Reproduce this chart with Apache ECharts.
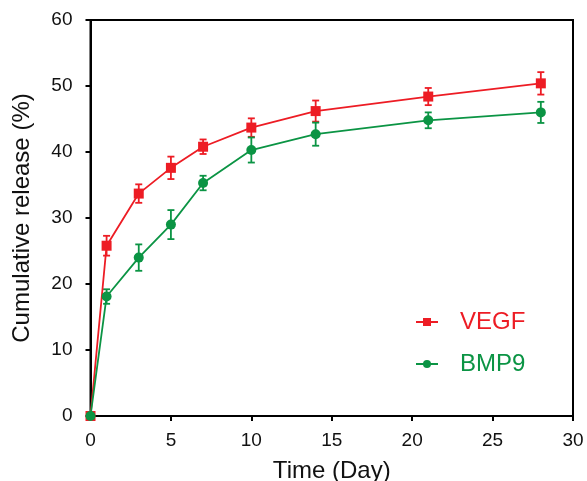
<!DOCTYPE html>
<html>
<head>
<meta charset="utf-8">
<script src="https://cdn.jsdelivr.net/npm/echarts@6/dist/echarts.min.js"></script>
<style>
html,body{margin:0;padding:0;background:#fff;}
#chart{width:587px;height:481px;}
</style>
</head>
<body>
<div id="chart"></div>
<script>
const days = [0, 1, 3, 5, 7, 10, 14, 21, 28];
const vegf = [0, 25.8, 33.7, 37.6, 40.8, 43.7, 46.2, 48.4, 50.4];
const vegfErr = [0, 1.5, 1.4, 1.7, 1.1, 1.4, 1.6, 1.3, 1.7];
const bmp9 = [0, 18.1, 24.0, 29.0, 35.3, 40.3, 42.7, 44.8, 46.0];
const bmp9Err = [0, 1.1, 2.0, 2.2, 1.1, 1.9, 1.75, 1.2, 1.6];
const xTicks = [0, 5, 10, 15, 20, 25, 30];
const yTicks = [0, 10, 20, 30, 40, 50, 60];

const RED = '#ed1c24';
const GREEN = '#0b9444';
const FONT = '"Liberation Sans", Arial, sans-serif';

function pairs(ys) { return days.map((d, i) => [d, ys[i]]); }
function errData(ys, es) { return days.map((d, i) => [d, ys[i] - es[i], ys[i] + es[i]]); }
function errSeries(name, ys, es, color) {
  return {
    type: 'custom',
    name: name + ' err',
    data: errData(ys, es),
    z: 3,
    clip: false,
    silent: true,
    renderItem: function (params, api) {
      const x = api.value(0);
      const lo = api.coord([x, api.value(1)]);
      const hi = api.coord([x, api.value(2)]);
      const w = 3.5;
      const style = { stroke: color, lineWidth: 1.8 };
      return {
        type: 'group',
        children: [
          { type: 'line', shape: { x1: lo[0], y1: lo[1], x2: hi[0], y2: hi[1] }, style: style },
          { type: 'line', shape: { x1: lo[0] - w, y1: lo[1], x2: lo[0] + w, y2: lo[1] }, style: style },
          { type: 'line', shape: { x1: hi[0] - w, y1: hi[1], x2: hi[0] + w, y2: hi[1] }, style: style }
        ]
      };
    }
  };
}

const chart = echarts.init(document.getElementById('chart'), null, { renderer: 'canvas' });
chart.setOption({
  animation: false,
  backgroundColor: '#fff',
  grid: {
    left: 90.5, right: 14, top: 20, bottom: 65,
    outerBoundsMode: 'none', containLabel: false,
    show: true, borderColor: '#000', borderWidth: 2, backgroundColor: 'transparent'
  },
  xAxis: {
    type: 'value', min: 0, max: 30, interval: 5,
    name: 'Time (Day)', nameLocation: 'middle', nameGap: 43,
    nameTextStyle: { fontFamily: FONT, fontSize: 24, color: '#111' },
    axisLine: { show: true, lineStyle: { color: '#000', width: 2 } },
    axisTick: { show: true, inside: false, length: 5, lineStyle: { color: '#000', width: 2 } },
    axisLabel: { fontFamily: FONT, fontSize: 19, color: '#111', margin: 15,
      formatter: v => xTicks.includes(v) ? String(v) : '' },
    splitLine: { show: false }
  },
  yAxis: {
    type: 'value', min: 0, max: 60, interval: 10,
    name: 'Cumulative release (%)', nameLocation: 'middle', nameGap: 56,
    nameTextStyle: { fontFamily: FONT, fontSize: 24, color: '#111' },
    axisLine: { show: true, lineStyle: { color: '#000', width: 2 } },
    axisTick: { show: true, inside: false, length: 5, lineStyle: { color: '#000', width: 2 } },
    axisLabel: { fontFamily: FONT, fontSize: 19, color: '#111', margin: 18,
      formatter: v => yTicks.includes(v) ? String(v) : '' },
    splitLine: { show: false }
  },
  legend: {
    orient: 'vertical', left: 410, top: 305, itemGap: 18,
    itemWidth: 22, itemHeight: 10,
    data: [
      { name: 'VEGF', textStyle: { color: RED } },
      { name: 'BMP9', textStyle: { color: GREEN } }
    ],
    textStyle: { fontFamily: FONT, fontSize: 24, padding: [0, 0, 0, 17] }
  },
  series: [
    errSeries('VEGF', vegf, vegfErr, RED),
    errSeries('BMP9', bmp9, bmp9Err, GREEN),
    {
      type: 'line', name: 'VEGF', data: pairs(vegf), clip: false, z: 4,
      symbol: 'rect', symbolSize: 10,
      lineStyle: { color: RED, width: 1.8 },
      itemStyle: { color: RED }
    },
    {
      type: 'line', name: 'BMP9', data: pairs(bmp9), clip: false, z: 5,
      symbol: 'circle', symbolSize: 10,
      lineStyle: { color: GREEN, width: 1.8 },
      itemStyle: { color: GREEN }
    }
  ]
});
</script>
</body>
</html>
